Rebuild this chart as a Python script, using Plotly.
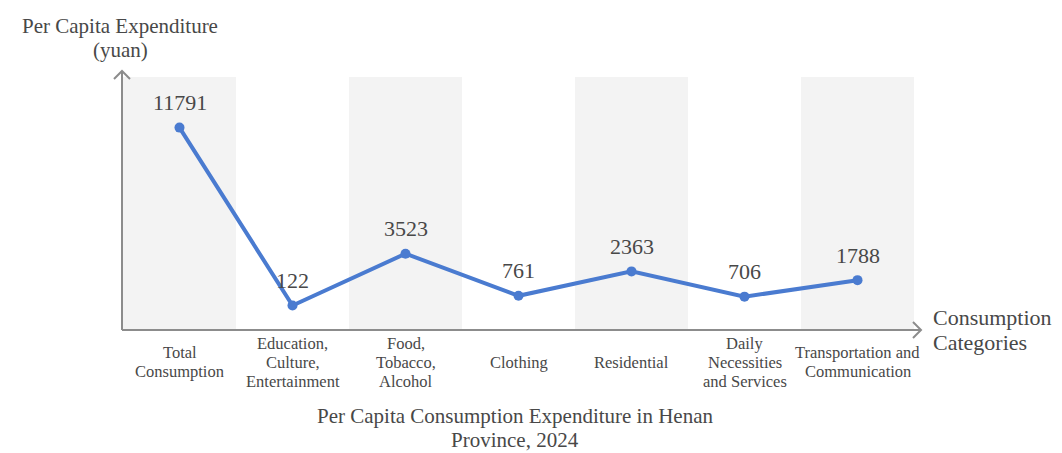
import plotly.graph_objects as go

# Categories, each split into the lines drawn under the axis
categories = [
    "Total Consumption",
    "Education, Culture, Entertainment",
    "Food, Tobacco, Alcohol",
    "Clothing",
    "Residential",
    "Daily Necessities and Services",
    "Transportation and Communication",
]
tick_lines = [
    ["Total", "Consumption"],
    ["Education,", "Culture,", "Entertainment"],
    ["Food,", "Tobacco,", "Alcohol"],
    ["Clothing"],
    ["Residential"],
    ["Daily", "Necessities", "and Services"],
    ["Transportation and", "Communication"],
]
expenditure = [11791, 122, 3523, 761, 2363, 706, 1788]

y_title_lines = ["Per Capita Expenditure", "(yuan)"]
x_title_lines = ["Consumption", "Categories"]
caption_lines = ["Per Capita Consumption Expenditure in Henan", "Province, 2024"]

FONT = "Liberation Serif, Times New Roman, serif"
TEXT = "#484848"
AXIS = "#8c8c8c"
LINE = "#4a7bd0"
BAND = "#f3f3f3"

W, H = 1062, 453
L, R, T, B = 123, 148, 77, 123
PW, PH = W - L - R, H - T - B


def px(x):
    return (x - L) / PW


def py(y):
    return (H - B - y) / PH


xs = list(range(len(categories)))

fig = go.Figure()
fig.add_trace(go.Scatter(
    x=xs, y=expenditure, mode="lines+markers",
    line=dict(color=LINE, width=4),
    marker=dict(color=LINE, size=10),
    hoverinfo="skip", showlegend=False,
))

shapes = []
# alternating background bands
for i in xs[::2]:
    shapes.append(dict(type="rect", xref="x", yref="paper", x0=i - 0.5, x1=i + 0.5,
                       y0=0, y1=1, fillcolor=BAND, line=dict(width=0), layer="below"))
# axis lines with open arrowheads
axis_line = dict(color=AXIS, width=2)
shapes += [
    dict(type="line", xref="paper", yref="paper", x0=px(122), y0=py(330), x1=px(921), y1=py(330), line=axis_line),
    dict(type="path", xref="paper", yref="paper",
         path=f"M {px(913)} {py(322)} L {px(921)} {py(330)} L {px(913)} {py(338)}", line=axis_line),
    dict(type="line", xref="paper", yref="paper", x0=px(122), y0=py(330), x1=px(122), y1=py(71), line=axis_line),
    dict(type="path", xref="paper", yref="paper",
         path=f"M {px(114)} {py(79)} L {px(122)} {py(71)} L {px(130)} {py(79)}", line=axis_line),
]

annotations = []


def text_block(lines, x, y_center, spacing, size, xref="paper", xanchor="center"):
    """Stack lines of text around a vertical centre with a fixed pixel spacing."""
    n = len(lines)
    for k, line in enumerate(lines):
        yc = y_center + (k - (n - 1) / 2) * spacing
        annotations.append(dict(x=x, y=py(yc), xref=xref, yref="paper", text=line,
                                showarrow=False, xanchor=xanchor, yanchor="middle",
                                font=dict(family=FONT, size=size, color=TEXT)))


# value labels above points
for i, v in zip(xs, expenditure):
    annotations.append(dict(x=i, y=v, xref="x", yref="y", text=str(v), showarrow=False,
                            yshift=25, font=dict(family=FONT, size=22, color=TEXT)))
# category labels under the axis, centred vertically
for i, lines in zip(xs, tick_lines):
    text_block(lines, i, 362, 19, 16.5, xref="x")
# axis titles and chart caption
text_block(x_title_lines, px(931), 330, 24.5, 22, xanchor="left")
text_block(y_title_lines, px(120), 38, 24, 21)
text_block(caption_lines, px(515), 427.5, 24, 21)

fig.update_layout(
    width=W, height=H,
    margin=dict(l=L, r=R, t=T, b=B),
    paper_bgcolor="white", plot_bgcolor="white",
    xaxis=dict(range=[-0.5, len(categories) - 0.5], showgrid=False, zeroline=False,
               showticklabels=False, ticks="", showline=False, fixedrange=True),
    yaxis=dict(range=[-1480, 15110], showgrid=False, zeroline=False,
               showticklabels=False, ticks="", showline=False, fixedrange=True),
    shapes=shapes, annotations=annotations,
)

fig.write_html("out.html", config={"displayModeBar": False})
